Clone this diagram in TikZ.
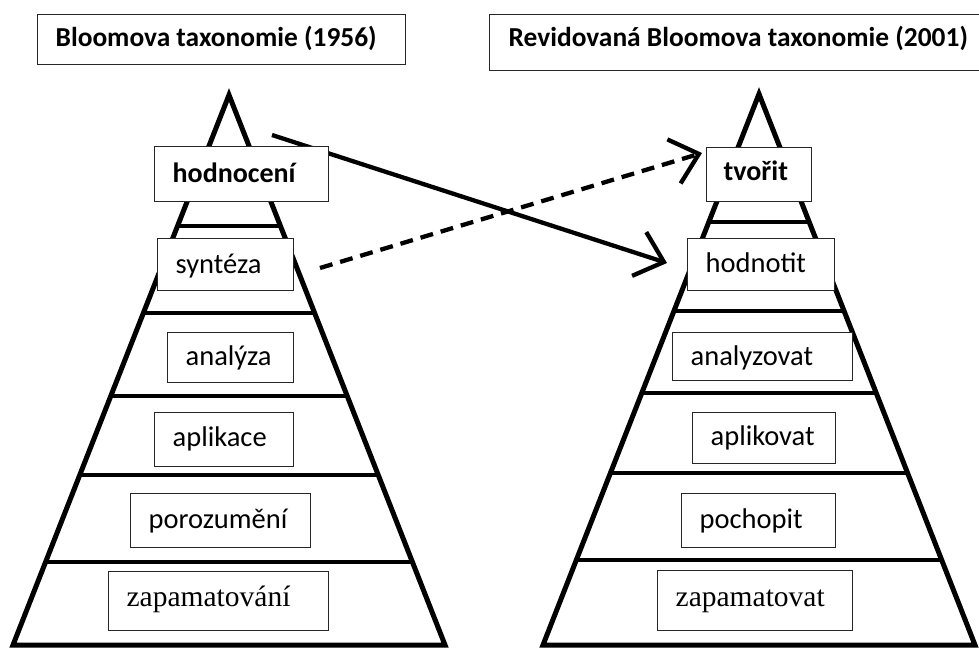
\documentclass[tikz,border=0pt]{standalone}
\usepackage{fontspec}
\setmainfont{Carlito}
\newfontfamily\serifrm{Liberation Serif}
\usetikzlibrary{arrows.meta}
\begin{document}
\begin{tikzpicture}[x=1pt,y=-1pt,
  tb/.style={draw=black!85, line width=1.3pt, fill=white, inner sep=0pt, anchor=north west, font=\fontsize{28.5}{33}\selectfont},
  tbb/.style={tb, font=\fontsize{28}{33}\selectfont\bfseries},
  tbt/.style={tb, font=\fontsize{27.4}{32}\selectfont\bfseries},
  tbs/.style={tb, font=\serifrm\fontsize{29.5}{34}\selectfont},
  pyr/.style={line width=5pt, line join=miter},
  lvl/.style={line width=4.6pt},
  arr/.style={line width=4.3pt, -{Straight Barb[length=26pt,width=46pt]}},
]
\clip (0,0) rectangle (979,648);
\fill[white] (0,0) rectangle (979,648);

% left pyramid
\coordinate (LA) at (229,95);
\coordinate (LB) at (13,645);
\coordinate (LC) at (445,645);
\begin{scope}
  \clip (LA) -- (LB) -- (LC) -- cycle;
  \foreach \y in {226,313,396,475,562} \draw[lvl] (0,\y) -- (490,\y);
\end{scope}
\draw[pyr] (LA) -- (LB) -- (LC) -- cycle;

% right pyramid
\coordinate (RA) at (759,94);
\coordinate (RB) at (543,645);
\coordinate (RC) at (975,645);
\begin{scope}
  \clip (RA) -- (RB) -- (RC) -- cycle;
  \foreach \y in {222,311,393,473,560} \draw[lvl] (490,\y) -- (979,\y);
\end{scope}
\draw[pyr] (RA) -- (RB) -- (RC) -- cycle;

% arrows
\coordinate (s1) at (272,135);
\coordinate (e1) at (667,263);
\draw[arr] (s1) -- (e1);
\coordinate (s2) at (320,268);
\coordinate (e2) at (702,153);
\draw[arr, dash pattern=on 13pt off 8pt] (s2) -- (e2);

% titles
\node[tbt, text height=32pt, text depth=18pt] (t1) at (37,14) {\makebox[368pt][l]{\hspace*{18pt}Bloomova taxonomie (1956)}};
\node[tbt, text height=32pt, text depth=24pt] (t2) at (489,14) {\makebox[501pt][l]{\hspace*{19pt}Revidovaná Bloomova taxonomie (2001)}};

% left boxes
\node[tbb, text height=36pt, text depth=19pt] (hod) at (154,146) {\makebox[174pt][l]{\hspace*{18pt}hodnocení}};
\node[tb, text height=35pt, text depth=17pt] (syn) at (157,238) {\makebox[136pt][l]{\hspace*{18pt}syntéza}};
\node[tb, text height=33pt, text depth=17pt] (ana) at (167,332) {\makebox[126pt][l]{\hspace*{18pt}analýza}};
\node[tb, text height=34pt, text depth=20pt] (apl) at (154,412) {\makebox[139pt][l]{\hspace*{18pt}aplikace}};
\node[tb, text height=35pt, text depth=19pt] (por) at (130,493) {\makebox[180pt][l]{\hspace*{18pt}porozumění}};
\node[tbs, text height=35pt, text depth=24pt] (zap) at (108,571) {\makebox[220pt][l]{\hspace*{18pt}zapamatování}};

% right boxes
\node[tbb, text height=33pt, text depth=21pt] (tvo) at (706,147) {\makebox[105pt][l]{\hspace*{17pt}tvořit}};
\node[tb, text height=34pt, text depth=18pt] (hdn) at (687,238) {\makebox[147pt][l]{\hspace*{18pt}hodnotit}};
\node[tb, text height=33pt, text depth=15pt] (anz) at (672,332) {\makebox[180pt][l]{\hspace*{18pt}analyzovat}};
\node[tb, text height=33pt, text depth=18pt] (apk) at (692,412) {\makebox[143pt][l]{\hspace*{18pt}aplikovat}};
\node[tb, text height=35pt, text depth=19pt] (poc) at (681,493) {\makebox[154pt][l]{\hspace*{18pt}pochopit}};
\node[tbs, text height=36pt, text depth=24pt] (zpt) at (657,570) {\makebox[195pt][l]{\hspace*{18pt}zapamatovat}};
\end{tikzpicture}
\end{document}
